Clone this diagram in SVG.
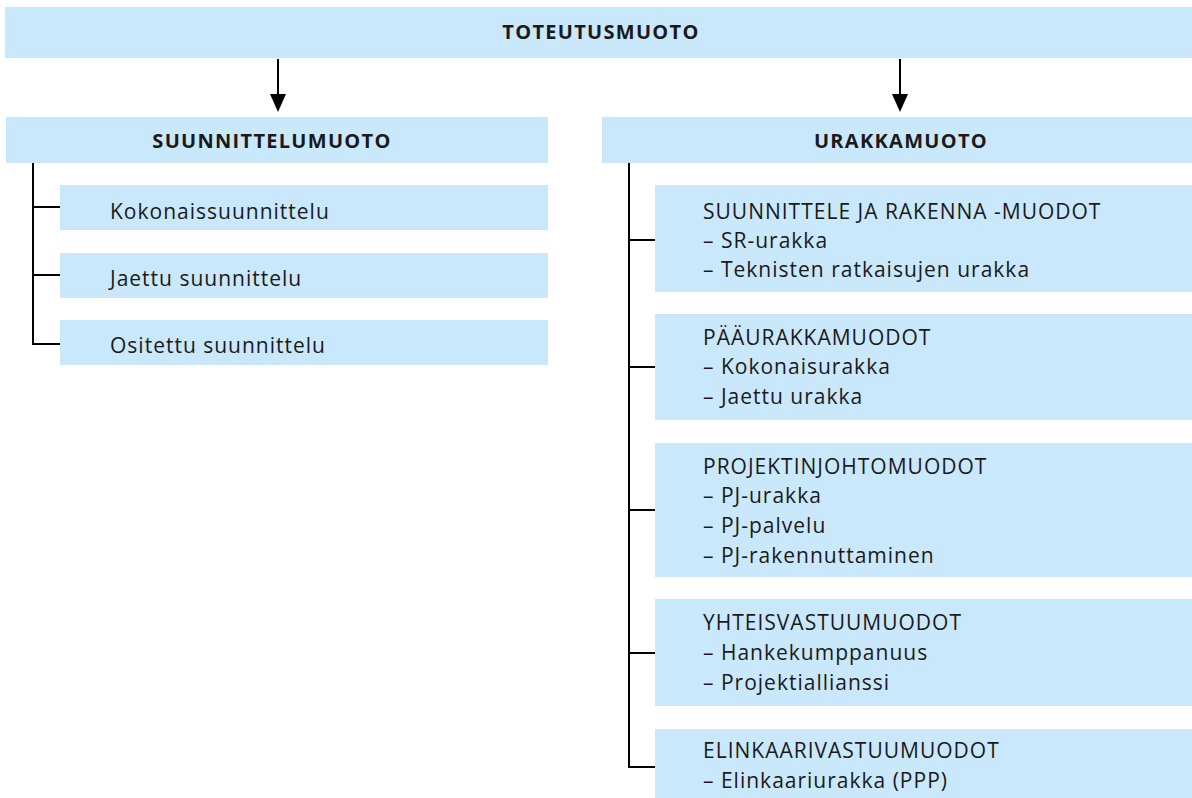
<svg xmlns="http://www.w3.org/2000/svg" width="1192" height="798" viewBox="0 0 1192 798">
<defs>
<style>
.box{fill:#CAE8FC;}
.t{font-family:"Open Sans","Liberation Sans",sans-serif;font-size:21px;letter-spacing:1px;fill:#1a1a1a;}
.b{font-weight:bold;text-anchor:middle;font-size:20px;letter-spacing:1.3px;}
.ln{fill:none;stroke:#000;stroke-width:2;}
</style>
</defs>
<rect width="1192" height="798" fill="#fff"/>
<g id="connectors">
<line class="ln" x1="278" y1="59" x2="278" y2="96"/>
<path d="M270,94 L286,94 L278,112 Z" fill="#000"/>
<line class="ln" x1="900" y1="59" x2="900" y2="96"/>
<path d="M892,94 L908,94 L900,112 Z" fill="#000"/>
<path class="ln" d="M33,163 V344 H60 M33,207 H60 M33,275 H60"/>
<path class="ln" d="M629,163 V767 H655 M629,240 H655 M629,367 H655 M629,510 H655 M629,653 H655"/>
</g>
<g id="n-toteutusmuoto"><rect class="box" x="5" y="7" width="1187" height="51"/><text class="t b" x="601" y="39">TOTEUTUSMUOTO</text></g>
<g id="n-suunnittelumuoto"><rect class="box" x="6" y="117" width="542" height="46"/><text class="t b" x="272" y="148">SUUNNITTELUMUOTO</text></g>
<g id="n-urakkamuoto"><rect class="box" x="602" y="117" width="590" height="46"/><text class="t b" x="901" y="148">URAKKAMUOTO</text></g>
<g id="n-kokonais"><rect class="box" x="60" y="185" width="488" height="45"/><text class="t" x="110" y="219">Kokonaissuunnittelu</text></g>
<g id="n-jaettu"><rect class="box" x="60" y="253" width="488" height="45"/><text class="t" x="110" y="286">Jaettu suunnittelu</text></g>
<g id="n-ositettu"><rect class="box" x="60" y="320" width="488" height="45"/><text class="t" x="110" y="353">Ositettu suunnittelu</text></g>
<g id="n-sr"><rect class="box" x="655" y="185" width="537" height="107"/>
<text class="t" x="703" y="219">SUUNNITTELE JA RAKENNA -MUODOT</text>
<text class="t" x="703" y="248">– SR-urakka</text>
<text class="t" x="703" y="277">– Teknisten ratkaisujen urakka</text></g>
<g id="n-paaurakka"><rect class="box" x="655" y="314" width="537" height="106"/>
<text class="t" x="703" y="345">PÄÄURAKKAMUODOT</text>
<text class="t" x="703" y="374">– Kokonaisurakka</text>
<text class="t" x="703" y="404">– Jaettu urakka</text></g>
<g id="n-pj"><rect class="box" x="655" y="443" width="537" height="134"/>
<text class="t" x="703" y="474">PROJEKTINJOHTOMUODOT</text>
<text class="t" x="703" y="503">– PJ-urakka</text>
<text class="t" x="703" y="533">– PJ-palvelu</text>
<text class="t" x="703" y="563">– PJ-rakennuttaminen</text></g>
<g id="n-yhteis"><rect class="box" x="655" y="599" width="537" height="107"/>
<text class="t" x="703" y="630">YHTEISVASTUUMUODOT</text>
<text class="t" x="703" y="660">– Hankekumppanuus</text>
<text class="t" x="703" y="690">– Projektiallianssi</text></g>
<g id="n-elinkaari"><rect class="box" x="655" y="729" width="537" height="69"/>
<text class="t" x="703" y="758">ELINKAARIVASTUUMUODOT</text>
<text class="t" x="703" y="788">– Elinkaariurakka (PPP)</text></g>
</svg>
